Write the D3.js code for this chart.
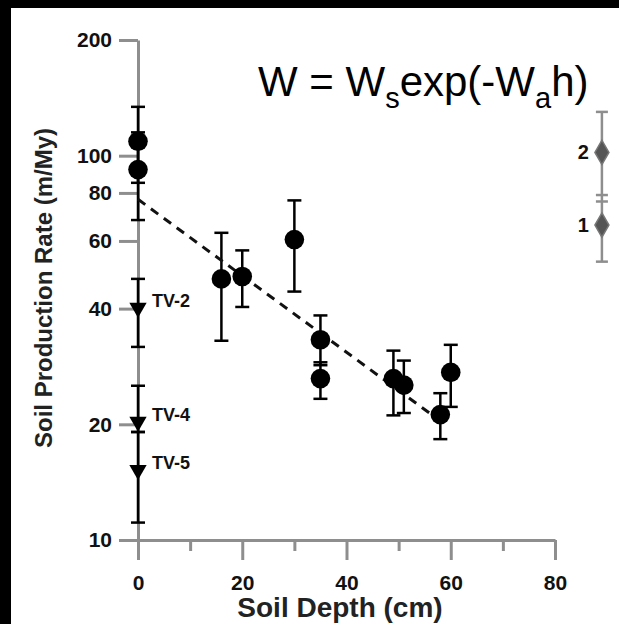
<!DOCTYPE html>
<html>
<head>
<meta charset="utf-8">
<script src="https://cdn.jsdelivr.net/npm/d3@7"></script>
<style>
  body { margin: 0; background: #000; }
  svg { display: block; }
</style>
</head>
<body>
<svg id="chart" width="619" height="624"></svg>
<script>
// soil production data
const circleDepth = [0, 0, 16, 20, 30, 35, 35, 49, 51, 58, 60];
const circleRate = [109, 92, 47.8, 48.5, 60.5, 33.2, 26.3, 26.3, 25.3, 21.2, 27.3];
const circleLow = [85, 68, 33, 40.4, 44.3, 28.5, 23.3, 21.1, 21.4, 18.3, 22.2];
const circleHigh = [134, 115, 63, 56.7, 76.5, 38.4, 29, 31.1, 29.3, 24.1, 32.2];

const tvNames = ["TV-2", "TV-4", "TV-5"];
const tvRate = [40.2, 20.3, 15.2];
const tvLow = [31.8, 19.1, 11.1];
const tvHigh = [47.8, 25.2, 19.1];

const fitDepth = [0, 58];
const fitRate = [77, 20.4];

// small side panel (1, 2)
const insetNames = ["2", "1"];
const insetPos = [89, 89];
const insetRate = [102, 66];
const insetLow = [79, 53];
const insetHigh = [130, 76];

const yTicks = [10, 20, 40, 60, 80, 100, 200];
const xTicks = [0, 20, 40, 60, 80];
const xMinor = [10, 30, 50, 70];

const svg = d3.select("#chart");
const axisGray = "#8e8e8e";
const font = "'Liberation Sans', Arial, Helvetica, sans-serif";

// black frame on top/left, white page
svg.append("rect").attr("width", 619).attr("height", 624).attr("fill", "#000");
svg.append("rect").attr("x", 11).attr("y", 8).attr("width", 608).attr("height", 616).attr("fill", "#fff");

const x = d3.scaleLinear().domain([0, 80]).range([138, 555]);
const y = d3.scaleLog().domain([10, 200]).range([540, 40]);

// y axis
const yAxis = svg.append("g")
    .attr("transform", "translate(" + x(0) + ",0)")
    .call(d3.axisLeft(y).tickValues(yTicks).tickFormat(d3.format("d"))
        .tickSize(19).tickSizeOuter(0).tickPadding(7));

// x axis (major + minor)
const xAxis = svg.append("g")
    .attr("transform", "translate(0," + y(10) + ")")
    .call(d3.axisBottom(x).tickValues(xTicks).tickSize(20).tickSizeOuter(0).tickPadding(15));
const xAxisMinor = svg.append("g")
    .attr("transform", "translate(0," + y(10) + ")")
    .call(d3.axisBottom(x).tickValues(xMinor).tickSize(11).tickSizeOuter(0).tickFormat(""));
xAxisMinor.select(".domain").remove();

[yAxis, xAxis, xAxisMinor].forEach(a => {
    a.selectAll("path, line").attr("stroke", axisGray).attr("stroke-width", 3);
    a.selectAll("text")
        .attr("fill", "#111")
        .style("font-family", font)
        .style("font-weight", "bold")
        .style("font-size", "21px");
});

// axis titles
svg.append("text")
    .attr("x", 340).attr("y", 617)
    .attr("text-anchor", "middle")
    .style("font-family", font).style("font-weight", "bold").style("font-size", "28px")
    .attr("fill", "#222")
    .text("Soil Depth (cm)");

svg.append("text")
    .attr("transform", "translate(52,288) rotate(-90)")
    .attr("text-anchor", "middle")
    .style("font-family", font).style("font-weight", "bold").style("font-size", "24px")
    .attr("fill", "#222")
    .text("Soil Production Rate (m/My)");

// equation
const eq = svg.append("text")
    .attr("x", 258).attr("y", 96)
    .style("font-family", font).style("font-size", "42px")
    .attr("fill", "#000");
eq.append("tspan").text("W = W");
eq.append("tspan").attr("dy", 12).style("font-size", "29px").text("s");
eq.append("tspan").attr("dy", -12).text("exp(-W");
eq.append("tspan").attr("dy", 12).style("font-size", "29px").text("a");
eq.append("tspan").attr("dy", -12).text("h)");

// error bars helper
function errorBars(g, xs, lows, highs, color, capW, width) {
    xs.forEach((d, i) => {
        const cx = x(d);
        g.append("line")
            .attr("x1", cx).attr("x2", cx)
            .attr("y1", y(lows[i])).attr("y2", y(highs[i]))
            .attr("stroke", color).attr("stroke-width", width);
        [lows[i], highs[i]].forEach(v => {
            g.append("line")
                .attr("x1", cx - capW / 2).attr("x2", cx + capW / 2)
                .attr("y1", y(v)).attr("y2", y(v))
                .attr("stroke", color).attr("stroke-width", width);
        });
    });
}

const marks = svg.append("g");
errorBars(marks, circleDepth, circleLow, circleHigh, "#000", 14, 2.5);
errorBars(marks, tvRate.map(() => 0), tvLow, tvHigh, "#000", 14, 2.5);

// fitted line
const fitLine = d3.line().x(d => x(d[0])).y(d => y(d[1]));
marks.append("path")
    .attr("d", fitLine(d3.zip(fitDepth, fitRate)))
    .attr("fill", "none")
    .attr("stroke", "#111")
    .attr("stroke-width", 3)
    .attr("stroke-dasharray", "9,7");

// circles
marks.selectAll("circle.pt")
    .data(d3.zip(circleDepth, circleRate))
    .enter().append("circle")
    .attr("class", "pt")
    .attr("cx", d => x(d[0]))
    .attr("cy", d => y(d[1]))
    .attr("r", 9.8)
    .attr("fill", "#000");

// triangles (pointing down)
const tri = d3.symbol().type(d3.symbolTriangle).size(130);
marks.selectAll("path.tv")
    .data(tvRate)
    .enter().append("path")
    .attr("class", "tv")
    .attr("d", tri)
    .attr("transform", d => "translate(" + x(0) + "," + y(d) + ") rotate(180)")
    .attr("fill", "#000");

marks.selectAll("text.tv")
    .data(tvRate)
    .enter().append("text")
    .attr("class", "tv")
    .attr("x", x(0) + 14)
    .attr("y", d => y(d) - 1)
    .style("font-family", font).style("font-weight", "bold").style("font-size", "18px")
    .attr("fill", "#111")
    .text((d, i) => tvNames[i]);

// side panel
const inset = svg.append("g");
inset.append("line")
    .attr("x1", x(insetPos[0])).attr("x2", x(insetPos[0]))
    .attr("y1", y(d3.max(insetHigh))).attr("y2", y(d3.min(insetLow)))
    .attr("stroke", axisGray).attr("stroke-width", 2.5);
insetPos.forEach((p, i) => {
    [insetLow[i], insetHigh[i]].forEach(v => {
        inset.append("line")
            .attr("x1", x(p) - 6).attr("x2", x(p) + 6)
            .attr("y1", y(v)).attr("y2", y(v))
            .attr("stroke", axisGray).attr("stroke-width", 2.5);
    });
});
const diamond = d3.symbol().type(d3.symbolDiamond).size(170);
inset.selectAll("path.dm")
    .data(insetRate)
    .enter().append("path")
    .attr("class", "dm")
    .attr("d", diamond)
    .attr("transform", (d, i) => "translate(" + x(insetPos[i]) + "," + y(d) + ")")
    .attr("fill", "#555")
    .attr("stroke", "#777")
    .attr("stroke-width", 1.5);
inset.selectAll("text.dm")
    .data(insetRate)
    .enter().append("text")
    .attr("class", "dm")
    .attr("x", (d, i) => x(insetPos[i]) - 13)
    .attr("y", d => y(d) + 7)
    .attr("text-anchor", "end")
    .style("font-family", font).style("font-weight", "bold").style("font-size", "20px")
    .attr("fill", "#111")
    .text((d, i) => insetNames[i]);
</script>
</body>
</html>
